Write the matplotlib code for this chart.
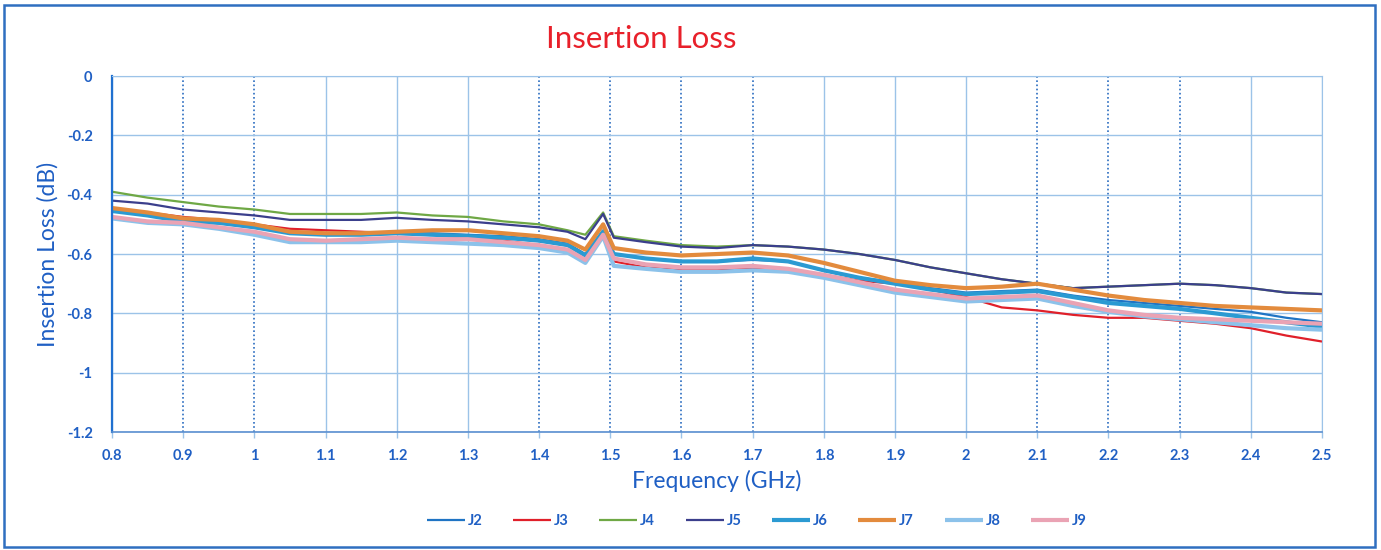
import matplotlib.pyplot as plt
from matplotlib.patches import Rectangle

# частота, ГГц
freq = [0.8, 0.85, 0.9, 0.95, 1.0, 1.05, 1.1, 1.15, 1.2, 1.25, 1.3, 1.35, 1.4, 1.44, 1.465,
        1.49, 1.505, 1.55, 1.6, 1.65, 1.7, 1.75, 1.8, 1.85, 1.9, 1.95, 2.0, 2.05, 2.1,
        2.15, 2.2, 2.25, 2.3, 2.35, 2.4, 2.45, 2.5]

# вносимые потери, дБ
j2 = [-0.45, -0.465, -0.485, -0.49, -0.505, -0.525, -0.53, -0.53, -0.53, -0.53, -0.535, -0.54, -0.55,
      -0.565, -0.60, -0.52, -0.60, -0.615, -0.625, -0.625, -0.62, -0.625, -0.655, -0.68, -0.695,
      -0.715, -0.73, -0.725, -0.72, -0.74, -0.755, -0.765, -0.775, -0.785, -0.795, -0.815, -0.83]
j3 = [-0.445, -0.46, -0.475, -0.485, -0.50, -0.515, -0.52, -0.525, -0.53, -0.535, -0.545, -0.555, -0.57,
      -0.59, -0.62, -0.535, -0.625, -0.645, -0.655, -0.655, -0.65, -0.655, -0.67, -0.69, -0.70,
      -0.72, -0.745, -0.78, -0.79, -0.805, -0.815, -0.815, -0.825, -0.835, -0.85, -0.875, -0.895]
j4 = [-0.39, -0.41, -0.425, -0.44, -0.45, -0.465, -0.465, -0.465, -0.46, -0.47, -0.475, -0.49, -0.50,
      -0.52, -0.535, -0.46, -0.54, -0.555, -0.57, -0.575, -0.57, -0.575, -0.585, -0.60, -0.62,
      -0.645, -0.665, -0.685, -0.70, -0.715, -0.71, -0.705, -0.70, -0.705, -0.715, -0.73, -0.735]
j5 = [-0.42, -0.43, -0.45, -0.46, -0.47, -0.485, -0.485, -0.485, -0.478, -0.485, -0.49, -0.50, -0.51,
      -0.525, -0.55, -0.465, -0.545, -0.56, -0.575, -0.58, -0.57, -0.575, -0.585, -0.60, -0.62,
      -0.645, -0.665, -0.685, -0.70, -0.715, -0.71, -0.705, -0.70, -0.705, -0.715, -0.73, -0.735]
j6 = [-0.455, -0.47, -0.49, -0.495, -0.51, -0.53, -0.535, -0.535, -0.53, -0.535, -0.54, -0.545, -0.555,
      -0.57, -0.605, -0.525, -0.60, -0.615, -0.625, -0.625, -0.615, -0.625, -0.655, -0.68, -0.70,
      -0.72, -0.735, -0.73, -0.725, -0.745, -0.765, -0.775, -0.785, -0.80, -0.815, -0.83, -0.845]
j7 = [-0.445, -0.46, -0.48, -0.485, -0.50, -0.525, -0.53, -0.53, -0.525, -0.52, -0.52, -0.53, -0.54,
      -0.555, -0.585, -0.50, -0.58, -0.595, -0.605, -0.60, -0.595, -0.605, -0.63, -0.66, -0.69,
      -0.705, -0.715, -0.71, -0.70, -0.72, -0.74, -0.755, -0.765, -0.775, -0.78, -0.785, -0.79]
j8 = [-0.48, -0.495, -0.50, -0.515, -0.535, -0.56, -0.56, -0.56, -0.555, -0.56, -0.565, -0.57, -0.58,
      -0.595, -0.63, -0.54, -0.64, -0.65, -0.66, -0.66, -0.655, -0.66, -0.68, -0.705, -0.73,
      -0.745, -0.76, -0.755, -0.75, -0.775, -0.795, -0.81, -0.82, -0.83, -0.84, -0.85, -0.855]
j9 = [-0.475, -0.49, -0.495, -0.51, -0.525, -0.55, -0.555, -0.55, -0.545, -0.55, -0.55, -0.56, -0.57,
      -0.585, -0.62, -0.535, -0.615, -0.635, -0.645, -0.645, -0.64, -0.65, -0.67, -0.695, -0.72,
      -0.735, -0.75, -0.745, -0.74, -0.765, -0.79, -0.805, -0.815, -0.82, -0.825, -0.83, -0.835]

names = ['J2', 'J3', 'J4', 'J5', 'J6', 'J7', 'J8', 'J9']
series = [j2, j3, j4, j5, j6, j7, j8, j9]
colors = ['#1f74c4', '#e0202a', '#6fa845', '#3b3f8c', '#2b9ad2', '#e38b3d', '#8cc2ea', '#eaa3b4']
widths = [1.6, 1.6, 1.6, 1.6, 3.0, 3.0, 3.0, 3.0]

txt = '#1f5fc4'
grid_c = '#9cc3e8'

plt.rcParams['font.family'] = ['Lato', 'DejaVu Sans']

fig = plt.figure(figsize=(13.81, 5.5), dpi=100)
ax = fig.add_axes([0.0811, 0.2145, 0.8762, 0.6473])

for name, ys, c, w in zip(names, series, colors, widths):
    ax.plot(freq, ys, color=c, lw=w, label=name, solid_capstyle='butt')

ax.set_xlim(0.8, 2.5)
ax.set_ylim(-1.2, 0)
xt = [0.8 + 0.1 * i for i in range(18)]
ax.set_xticks(xt)
ax.set_xticklabels(['1' if abs(v - 1) < 1e-9 else ('2' if abs(v - 2) < 1e-9 else '%.1f' % v) for v in xt])
ax.set_yticks([0, -0.2, -0.4, -0.6, -0.8, -1, -1.2])
ax.set_yticklabels(['0', '-0.2', '-0.4', '-0.6', '-0.8', '-1', '-1.2'])
ax.tick_params(axis='both', colors=txt, labelsize=10.5, length=4, width=1)
ax.tick_params(axis='x', pad=8, color=grid_c)
ax.tick_params(axis='y', pad=14, length=0)
for lab in ax.get_xticklabels() + ax.get_yticklabels():
    lab.set_fontweight('bold')

ax.grid(True, color=grid_c, lw=1.0)
ax.set_axisbelow(True)
# часть вертикальных линий на скане тёмные пунктирные
dark = [1, 2, 6, 7, 8, 9, 13, 14, 15]
for i, gl in enumerate(ax.get_xgridlines()):
    if i in dark:
        gl.set_color('#2a6cc0')
        gl.set_linestyle((0, (1, 1.5)))
        gl.set_linewidth(1.2)

for s in ['top', 'right']:
    ax.spines[s].set_color(grid_c)
ax.spines['left'].set_color('#2070d0')
ax.spines['left'].set_linewidth(1.6)
ax.spines['bottom'].set_color('#5a8fd0')
ax.spines['bottom'].set_linewidth(1.2)

fig.text(0.464, 0.929, 'Insertion Loss', color='#e8202a', fontsize=22.5, ha='center', va='center')
ax.set_xlabel('Frequency (GHz)', color=txt, fontsize=16.5, labelpad=5)
ax.set_ylabel('Insertion Loss (dB)', color=txt, fontsize=16.5, labelpad=6)

leg = fig.legend(loc='center', bbox_to_anchor=(0.548, 0.053), ncol=8, frameon=False,
                 fontsize=10.5, labelcolor=txt, handlelength=2.6, columnspacing=2.1,
                 handletextpad=0.2)
for t in leg.get_texts():
    t.set_fontweight('bold')

fig.patches.append(Rectangle((0.003, 0.006), 0.993, 0.985, transform=fig.transFigure,
                             fill=False, edgecolor='#2f6fc0', lw=1.8))

fig.savefig('out.png', dpi=100)
